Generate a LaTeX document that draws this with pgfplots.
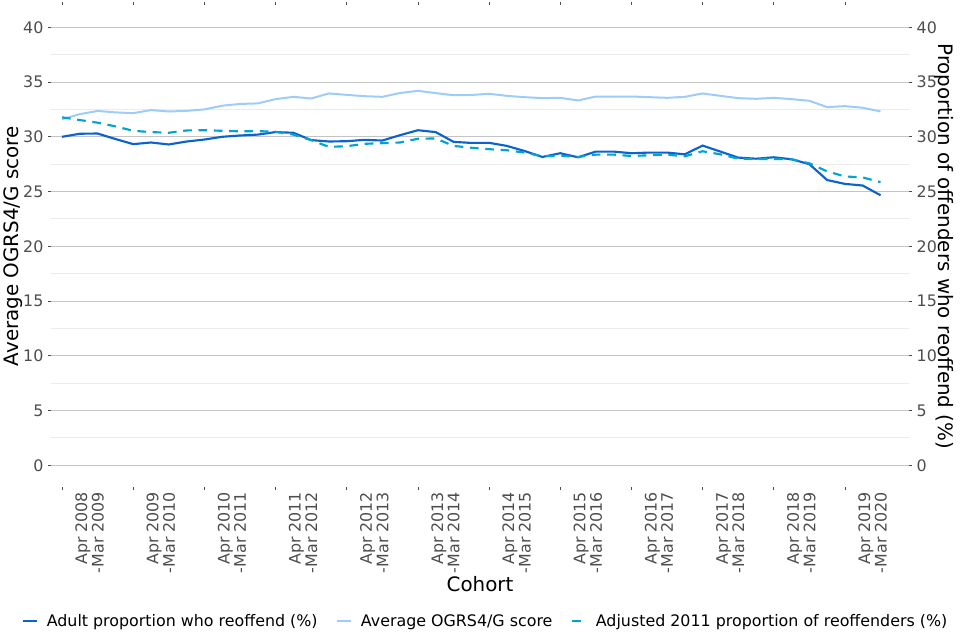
\documentclass[border=0pt]{standalone}
\usepackage{fontspec}
\setmainfont{DejaVu Sans}
\usepackage{pgfplots}
\pgfplotsset{compat=1.18}
\usepackage{pgfplotstable}
\definecolor{cAdult}{HTML}{0B63CE}
\definecolor{cOgrs}{HTML}{9ECCFA}
\definecolor{cAdj}{HTML}{00A3D3}
\definecolor{tickgrey}{HTML}{4D4D4D}
\definecolor{majgrid}{HTML}{C4C4C4}
\definecolor{mingrid}{HTML}{EBEBEB}
\newcommand\tickfont{\fontsize{11.9}{11.3}\selectfont}
\newcommand\titlefont{\fontsize{14.9}{17}\selectfont}

\pgfplotstableread{
i adult ogrs adj
0 30.00 31.60 31.78
1 30.28 32.07 31.53
2 30.30 32.36 31.29
3 29.80 32.23 30.95
4 29.33 32.16 30.55
5 29.48 32.44 30.43
6 29.30 32.31 30.37
7 29.57 32.37 30.58
8 29.75 32.50 30.60
9 30.00 32.84 30.55
10 30.12 33.00 30.50
11 30.20 33.05 30.52
12 30.43 33.44 30.46
13 30.37 33.65 30.20
14 29.70 33.50 29.70
15 29.57 33.96 29.08
16 29.60 33.83 29.14
17 29.72 33.71 29.36
18 29.66 33.65 29.42
19 30.15 34.00 29.48
20 30.60 34.20 29.82
21 30.43 33.99 29.85
22 29.54 33.80 29.17
23 29.44 33.82 29.00
24 29.45 33.93 28.87
25 29.17 33.74 28.77
26 28.70 33.62 28.56
27 28.16 33.53 28.22
28 28.50 33.56 28.28
29 28.13 33.32 28.16
30 28.65 33.68 28.37
31 28.65 33.68 28.37
32 28.50 33.68 28.25
33 28.56 33.62 28.31
34 28.56 33.56 28.37
35 28.40 33.65 28.22
36 29.20 33.96 28.68
37 28.65 33.74 28.40
38 28.10 33.53 28.00
39 28.00 33.47 27.97
40 28.13 33.56 27.97
41 27.95 33.44 27.95
42 27.50 33.29 27.58
43 26.05 32.71 26.84
44 25.70 32.80 26.38
45 25.55 32.65 26.29
46 24.66 32.32 25.86
}\data

\begin{document}
\begin{tikzpicture}
\begin{axis}[
  scale only axis, width=643.5pt, height=361.35pt,
  xmin=-0.62, xmax=47.6, ymin=-2, ymax=42,
  axis line style={draw=none},
  ytick={0,5,...,40}, minor ytick={2.5,7.5,...,37.5},
  ymajorgrids, yminorgrids,
  major grid style={majgrid, line width=0.75pt},
  minor grid style={mingrid, line width=0.75pt},
  tick align=outside, major tick length=2.2pt, minor tick length=0pt,
  tick style={tickgrey, line width=0.6pt},
  xtick={0,4,...,44}, xticklabels={},
  extra x ticks={1.55,5.55,9.55,13.55,17.55,21.55,25.55,29.55,33.55,37.55,41.55,45.55},
  extra x tick labels={{Apr 2008\\-Mar 2009},{Apr 2009\\-Mar 2010},{Apr 2010\\-Mar 2011},{Apr 2011\\-Mar 2012},{Apr 2012\\-Mar 2013},{Apr 2013\\-Mar 2014},{Apr 2014\\-Mar 2015},{Apr 2015\\-Mar 2016},{Apr 2016\\-Mar 2017},{Apr 2017\\-Mar 2018},{Apr 2018\\-Mar 2019},{Apr 2019\\-Mar 2020}},
  extra x tick style={major tick length=0pt, xmajorgrids=false},
  xticklabel style={rotate=90, anchor=east, align=right, font=\tickfont, text=tickgrey},
  yticklabel style={font=\tickfont, text=tickgrey},
  /pgf/number format/assume math mode=true,
  ylabel={Average OGRS4/G score},
  ylabel style={at={(axis description cs:-0.0443,0.5)}, anchor=center, font=\titlefont},
  xlabel={Cohort},
  xlabel style={at={(axis description cs:0.5,-0.202)}, anchor=center, font=\titlefont},
  legend style={at={(axis description cs:0.507,-0.278)}, anchor=center, draw=none, fill=none, font=\tickfont,
    /tikz/every odd column/.append style={column sep=4.5pt},
    /tikz/every even column/.append style={column sep=12pt}},
  legend columns=3,
  legend image code/.code={\draw[#1] (0pt,0pt) -- (10.5pt,0pt);},
]
\addplot[cAdult, line width=1.6pt] table[x=i, y=adult] {\data};
\addlegendentry{Adult proportion who reoffend (\%)}
\addplot[cOgrs, line width=1.5pt] table[x=i, y=ogrs] {\data};
\addlegendentry{Average OGRS4/G score}
\addplot[cAdj, line width=1.6pt, dash pattern=on 6.5pt off 5pt] table[x=i, y=adj] {\data};
\addlegendentry{Adjusted 2011 proportion of reoffenders (\%)}
\end{axis}
\begin{axis}[
  scale only axis, width=643.5pt, height=361.35pt,
  xmin=-0.62, xmax=47.6, ymin=-2, ymax=42,
  axis y line*=right, axis x line=none,
  axis line style={draw=none},
  ytick={0,5,...,40},
  tick align=outside, major tick length=2.2pt,
  tick style={tickgrey, line width=0.6pt},
  yticklabel style={font=\tickfont, text=tickgrey},
  /pgf/number format/assume math mode=true,
  ylabel={Proportion of offenders who reoffend (\%)},
  ylabel style={at={(axis description cs:1.0402,0.5)}, anchor=center, rotate=180, font=\titlefont},
]
\end{axis}
\pgfresetboundingbox
\path (-38.25pt,-114.6pt) rectangle (681.75pt,365.4pt);
\end{tikzpicture}
\end{document}
